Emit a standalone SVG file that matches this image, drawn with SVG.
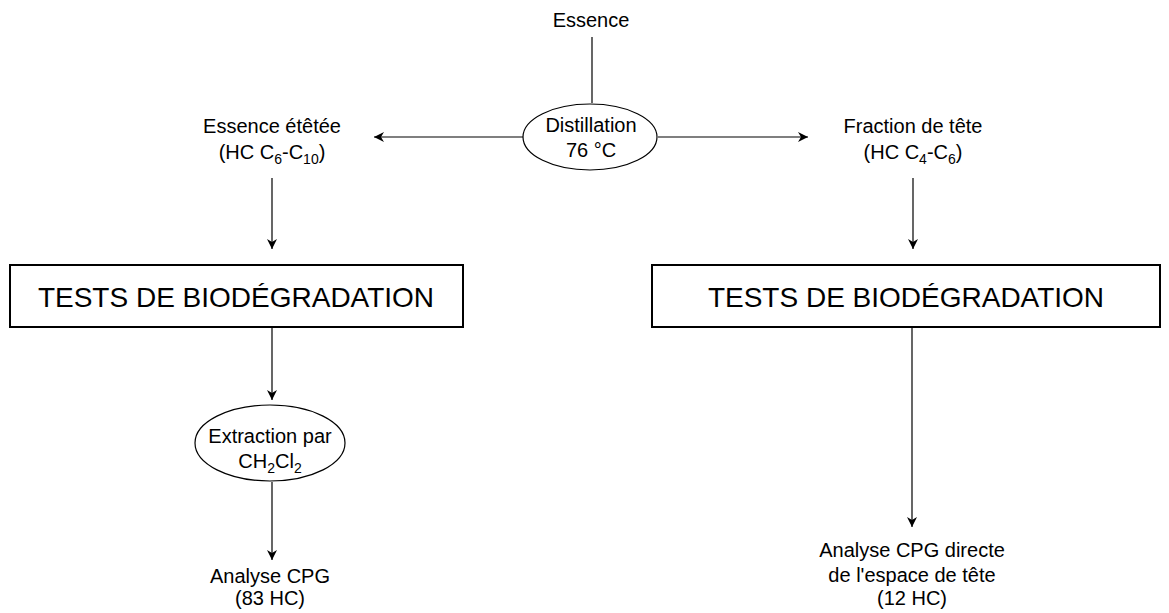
<svg xmlns="http://www.w3.org/2000/svg" width="1169" height="613" viewBox="0 0 1169 613">
<style>
text{font-family:"Liberation Sans",Arial,sans-serif;fill:#000;text-anchor:middle}
.t{font-size:20px}
.big{font-size:28px}
.sub{font-size:14px}
.ln{stroke:#000;stroke-width:1.2;fill:none}
.sh{fill:#fff;stroke:#000;stroke-width:1.2}
.bx{fill:#fff;stroke:#000;stroke-width:2}
</style>
<defs>
<marker id="ah" viewBox="0 0 10 10" refX="10" refY="5" markerWidth="10" markerHeight="10" markerUnits="userSpaceOnUse" orient="auto">
<path d="M0,0 L10,5 L0,10 L3,5 z" fill="#000"/>
</marker>
</defs>
<g id="connectors">
<line class="ln" x1="592" y1="37" x2="592" y2="103"/>
<line class="ln" x1="524" y1="137" x2="374" y2="137" marker-end="url(#ah)"/>
<line class="ln" x1="658" y1="137" x2="808" y2="137" marker-end="url(#ah)"/>
<line class="ln" x1="272" y1="178" x2="272" y2="249" marker-end="url(#ah)"/>
<line class="ln" x1="913" y1="178" x2="913" y2="249" marker-end="url(#ah)"/>
<line class="ln" x1="272" y1="328" x2="272" y2="400" marker-end="url(#ah)"/>
<line class="ln" x1="272" y1="482" x2="272" y2="560" marker-end="url(#ah)"/>
<line class="ln" x1="912" y1="328" x2="912" y2="527" marker-end="url(#ah)"/>
</g>
<g id="essence"><text class="t" x="591" y="27">Essence</text></g>
<g id="distillation">
<ellipse class="sh" cx="590" cy="137" rx="67" ry="33"/>
<text class="t" x="591" y="132">Distillation</text>
<text class="t" x="591" y="157">76 °C</text>
</g>
<g id="essence-etetee">
<text class="t" x="272" y="133">Essence étêtée</text>
<text class="t" x="272" y="159">(HC C<tspan class="sub" dy="5">6</tspan><tspan dy="-5">-C</tspan><tspan class="sub" dy="5">10</tspan><tspan dy="-5">)</tspan></text>
</g>
<g id="fraction-tete">
<text class="t" x="913" y="133">Fraction de tête</text>
<text class="t" x="913" y="159">(HC C<tspan class="sub" dy="5">4</tspan><tspan dy="-5">-C</tspan><tspan class="sub" dy="5">6</tspan><tspan dy="-5">)</tspan></text>
</g>
<g id="tests-left">
<rect class="bx" x="10" y="265" width="453" height="62"/>
<text class="big" x="236" y="307">TESTS DE BIODÉGRADATION</text>
</g>
<g id="tests-right">
<rect class="bx" x="652" y="265" width="508" height="62"/>
<text class="big" x="906" y="307">TESTS DE BIODÉGRADATION</text>
</g>
<g id="extraction">
<ellipse class="sh" cx="270" cy="443" rx="75" ry="38"/>
<text class="t" x="270" y="443">Extraction par</text>
<text class="t" x="270" y="468">CH<tspan class="sub" dy="5">2</tspan><tspan dy="-5">Cl</tspan><tspan class="sub" dy="5">2</tspan></text>
</g>
<g id="analyse-left">
<text class="t" x="270" y="583">Analyse CPG</text>
<text class="t" x="270" y="605">(83 HC)</text>
</g>
<g id="analyse-right">
<text class="t" x="912" y="557">Analyse CPG directe</text>
<text class="t" x="912" y="582">de l'espace de tête</text>
<text class="t" x="912" y="605">(12 HC)</text>
</g>
</svg>
